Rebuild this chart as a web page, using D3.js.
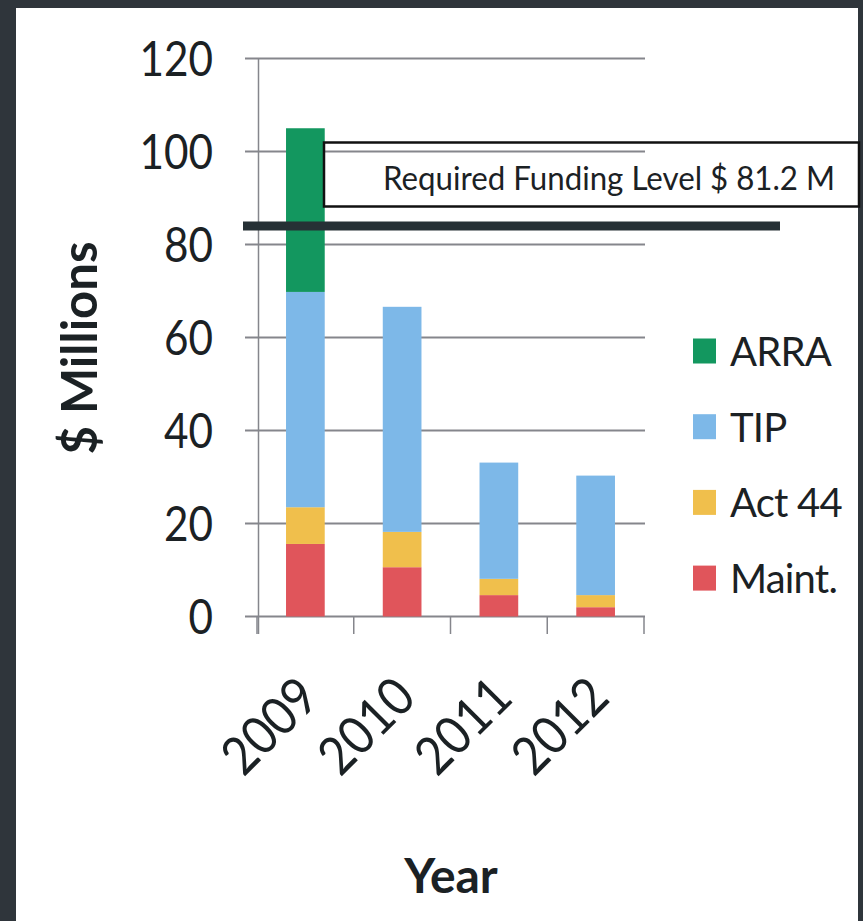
<!DOCTYPE html>
<html>
<head>
<meta charset="utf-8">
<script src="https://cdn.jsdelivr.net/npm/d3@7"></script>
<style>
  html, body { margin: 0; padding: 0; background: #2f353b; }
  #viz { width: 863px; height: 921px; }
  text { font-family: Lato, "Open Sans", sans-serif; fill: #1b2124; }
</style>
</head>
<body>
<div id="viz"></div>
<script>
// data ($ millions, stacked)
const years = ['2009', '2010', '2011', '2012'];
const maint = [15.6, 10.6, 4.6, 2.0];
const act44 = [7.9, 7.6, 3.5, 2.6];
const tip = [46.3, 48.4, 25.0, 25.7];
const arra = [35.2, 0, 0, 0];
const seriesNames = ['Maint.', 'Act 44', 'TIP', 'ARRA'];
const seriesColors = ['#e0555b', '#f0bf4c', '#7db8e8', '#13975f'];
const yTicks = [0, 20, 40, 60, 80, 100, 120];
const requiredLabel = 'Required Funding Level $ 81.2 M';
const requiredLineAt = 84; // where the line is drawn in the picture

const W = 863, H = 921;

const svg = d3.select('#viz')
  .append('svg')
  .attr('width', W)
  .attr('height', H);

// dark frame then white page
svg.append('rect').attr('width', W).attr('height', H).attr('fill', '#2f353b');
svg.append('rect')
  .attr('x', 16).attr('y', 8)
  .attr('width', 842).attr('height', H - 8)
  .attr('fill', '#ffffff');

// table for the stack
const table = years.map((yr, i) => ({
  year: yr,
  'Maint.': maint[i],
  'Act 44': act44[i],
  'TIP': tip[i],
  'ARRA': arra[i]
}));
const stacked = d3.stack().keys(seriesNames)(table);

// scales
const x = d3.scaleBand()
  .domain(years)
  .range([257, 644])
  .paddingInner(0.6)
  .paddingOuter(0.3);

const y = d3.scaleLinear()
  .domain([0, 120])
  .range([616.5, 58.5]);

const color = d3.scaleOrdinal().domain(seriesNames).range(seriesColors);

// gridlines (with the outward tick on the left)
svg.append('g')
  .selectAll('line')
  .data(yTicks)
  .enter()
  .append('line')
  .attr('x1', 245)
  .attr('x2', 645)
  .attr('y1', d => y(d))
  .attr('y2', d => y(d))
  .attr('stroke', '#85868c')
  .attr('stroke-width', 2);

// y axis line
svg.append('line')
  .attr('x1', 258.5).attr('x2', 258.5)
  .attr('y1', y(120)).attr('y2', 634)
  .attr('stroke', '#85868c')
  .attr('stroke-width', 1.5);

// y tick labels
svg.append('g')
  .selectAll('text')
  .data(yTicks)
  .enter()
  .append('text')
  .attr('x', 213)
  .attr('y', d => y(d) + 17)
  .attr('text-anchor', 'end')
  .attr('font-size', 48)
  .attr('textLength', d => String(d).length * 24.5)
  .attr('lengthAdjust', 'spacingAndGlyphs')
  .text(d => d);

// x axis with tick marks between the categories
const step = x.step();
const edges = d3.range(years.length + 1).map(i => x.range()[0] + i * step);
svg.append('g')
  .selectAll('line')
  .data(edges)
  .enter()
  .append('line')
  .attr('x1', d => d).attr('x2', d => d)
  .attr('y1', y(0)).attr('y2', 634)
  .attr('stroke', '#85868c')
  .attr('stroke-width', 1.5);

// bars
svg.append('g')
  .selectAll('g')
  .data(stacked)
  .enter()
  .append('g')
  .attr('fill', d => color(d.key))
  .selectAll('rect')
  .data(d => d.filter(p => p[1] - p[0] > 0))
  .enter()
  .append('rect')
  .attr('x', d => x(d.data.year))
  .attr('y', d => y(d[1]))
  .attr('width', x.bandwidth())
  .attr('height', d => y(d[0]) - y(d[1]));

// x tick labels, rotated
svg.append('g')
  .selectAll('text')
  .data(years)
  .enter()
  .append('text')
  .attr('transform', d => `translate(${x(d) + x.bandwidth() / 2 + 16},${700}) rotate(-45)`)
  .attr('text-anchor', 'end')
  .attr('font-size', 53)
  .attr('textLength', 110)
  .attr('lengthAdjust', 'spacingAndGlyphs')
  .text(d => d);

// required funding line and its label box
svg.append('line')
  .attr('x1', 243).attr('x2', 780)
  .attr('y1', y(requiredLineAt)).attr('y2', y(requiredLineAt))
  .attr('stroke', '#263035')
  .attr('stroke-width', 9);

svg.append('rect')
  .attr('x', 324).attr('y', 142.5)
  .attr('width', 535).attr('height', 64)
  .attr('fill', 'none')
  .attr('stroke', '#111')
  .attr('stroke-width', 2.5);

svg.append('text')
  .attr('x', 609)
  .attr('y', 190)
  .attr('text-anchor', 'middle')
  .attr('font-size', 33)
  .attr('textLength', 452)
  .attr('lengthAdjust', 'spacingAndGlyphs')
  .text(requiredLabel);

// legend (top to bottom: ARRA, TIP, Act 44, Maint.)
const legendOrder = seriesNames.slice().reverse();
const legend = svg.append('g')
  .selectAll('g')
  .data(legendOrder)
  .enter()
  .append('g')
  .attr('transform', (d, i) => `translate(693,${351 + i * 75.7})`);

legend.append('rect')
  .attr('x', 0).attr('y', -12.5)
  .attr('width', 23).attr('height', 25)
  .attr('fill', d => color(d));

legend.append('text')
  .attr('x', 37)
  .attr('y', 15)
  .attr('font-size', 40)
  .attr('letter-spacing', -0.8)
  .text(d => d);

// axis titles
svg.append('text')
  .attr('transform', 'translate(97,348) rotate(-90)')
  .attr('text-anchor', 'middle')
  .attr('font-size', 49)
  .attr('font-weight', 'bold')
  .text('$ Millions');

svg.append('text')
  .attr('x', 451)
  .attr('y', 893)
  .attr('text-anchor', 'middle')
  .attr('font-size', 48)
  .attr('font-weight', 'bold')
  .text('Year');
</script>
</body>
</html>
